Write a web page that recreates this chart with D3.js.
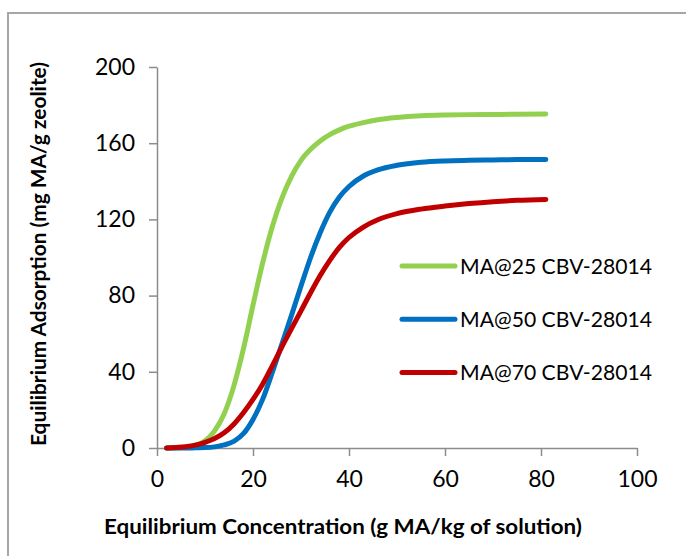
<!DOCTYPE html>
<html>
<head>
<meta charset="utf-8">
<script src="https://cdn.jsdelivr.net/npm/d3@7/dist/d3.min.js"></script>
<style>
  html, body { margin: 0; padding: 0; background: #fff; }
  svg { display: block; }
  text { font-family: Lato, "Open Sans", sans-serif; fill: #000; }
</style>
</head>
<body>
<svg id="chart" width="686" height="556"></svg>
<script>
// Equilibrium concentration (g MA/kg of solution) sampled along each isotherm
const concentration = [2, 4, 6, 8, 10, 12, 14, 16, 18, 20, 22, 24, 26, 28, 30, 32, 34, 36, 38, 40, 43, 46, 50, 55, 60, 65, 70, 75, 81];

// Equilibrium adsorption (mg MA/g zeolite) for each temperature
const adsorption25 = [0, 0.1, 0.4, 1.5, 3.8, 9, 18, 32.5, 52, 75, 97, 116, 131, 142.5, 151, 156.8, 161.2, 164.5, 167, 168.9, 170.8, 172.3, 173.5, 174.4, 174.8, 175, 175.1, 175.2, 175.3];
const adsorption50 = [0, 0, 0, 0.1, 0.2, 0.6, 1.6, 3.5, 7.5, 15, 25.5, 39.5, 54.5, 69.5, 85, 100, 113, 123.8, 131.8, 137.3, 142.8, 146, 148.4, 150, 150.7, 151, 151.2, 151.4, 151.5];
const adsorption70 = [0, 0.3, 0.7, 1.5, 3, 5, 8, 12.5, 18.5, 25.5, 33.5, 43, 53, 62.5, 72, 81.5, 90.5, 98.5, 105.3, 110.5, 116, 119.8, 123, 125.4, 127, 128.3, 129.3, 130, 130.5];

const seriesNames = ["MA@25 CBV-28014", "MA@50 CBV-28014", "MA@70 CBV-28014"];
const seriesColors = ["#92D050", "#0070C0", "#C00000"];
const seriesValues = [adsorption25, adsorption50, adsorption70];

const xTicks = [0, 20, 40, 60, 80, 100];
const yTicks = [0, 40, 80, 120, 160, 200];

const xTitle = "Equilibrium Concentration (g MA/kg of solution)";
const yTitle = "Equilibrium Adsorption (mg MA/g zeolite)";

const svg = d3.select("#chart");

// outer chart frame (runs past the right and bottom edges)
svg.append("rect")
  .attr("x", 8).attr("y", 13)
  .attr("width", 720).attr("height", 600)
  .attr("fill", "none")
  .attr("stroke", "#a6a6a6")
  .attr("stroke-width", 2);

const x = d3.scaleLinear().domain([0, 100]).range([157, 637]);
const y = d3.scaleLinear().domain([0, 200]).range([448, 67]);

// axes
const xAxis = d3.axisBottom(x).tickValues(xTicks).tickSize(8).tickSizeOuter(0).tickPadding(9);
const yAxis = d3.axisLeft(y).tickValues(yTicks).tickSize(8).tickSizeOuter(0).tickPadding(14);

const gx = svg.append("g").attr("transform", `translate(0,${y(0)})`).call(xAxis);
const gy = svg.append("g").attr("transform", `translate(${x(0)},0)`).call(yAxis);

[gx, gy].forEach(g => {
  g.select(".domain").attr("stroke", "#8c8c8c").attr("stroke-width", 1.5);
  g.selectAll(".tick line").attr("stroke", "#8c8c8c").attr("stroke-width", 1.5);
  g.selectAll(".tick text")
    .style("font-family", "Lato, sans-serif")
    .style("font-size", "23px")
    .attr("fill", "#000");
});
gx.selectAll(".tick text").attr("dy", "0.95em");

// isotherm curves
const line = d3.line()
  .x(d => x(d[0]))
  .y(d => y(d[1]))
  .curve(d3.curveMonotoneX);

seriesValues.forEach((vals, i) => {
  const pts = concentration.map((c, j) => [c, vals[j]]);
  svg.append("path")
    .datum(pts)
    .attr("d", line)
    .attr("fill", "none")
    .attr("stroke", seriesColors[i])
    .attr("stroke-width", 5)
    .attr("stroke-linecap", "round")
    .attr("stroke-linejoin", "round");
});

// legend
const legend = svg.append("g");
seriesNames.forEach((name, i) => {
  const ly = 266 + i * 53.3;
  legend.append("line")
    .attr("x1", 402).attr("x2", 455)
    .attr("y1", ly).attr("y2", ly)
    .attr("stroke", seriesColors[i])
    .attr("stroke-width", 5)
    .attr("stroke-linecap", "round");
  legend.append("text")
    .attr("x", 460).attr("y", ly)
    .attr("dy", "0.36em")
    .attr("textLength", 192)
    .attr("lengthAdjust", "spacingAndGlyphs")
    .style("font-size", "21px")
    .text(name);
});

// axis titles
svg.append("text")
  .attr("x", 343).attr("y", 534)
  .attr("text-anchor", "middle")
  .attr("textLength", 478)
  .attr("lengthAdjust", "spacingAndGlyphs")
  .style("font-size", "20px")
  .style("font-weight", "bold")
  .text(xTitle);

svg.append("text")
  .attr("transform", "translate(46,254) rotate(-90)")
  .attr("text-anchor", "middle")
  .attr("textLength", 384)
  .attr("lengthAdjust", "spacingAndGlyphs")
  .style("font-size", "20px")
  .style("font-weight", "bold")
  .text(yTitle);
</script>
</body>
</html>
